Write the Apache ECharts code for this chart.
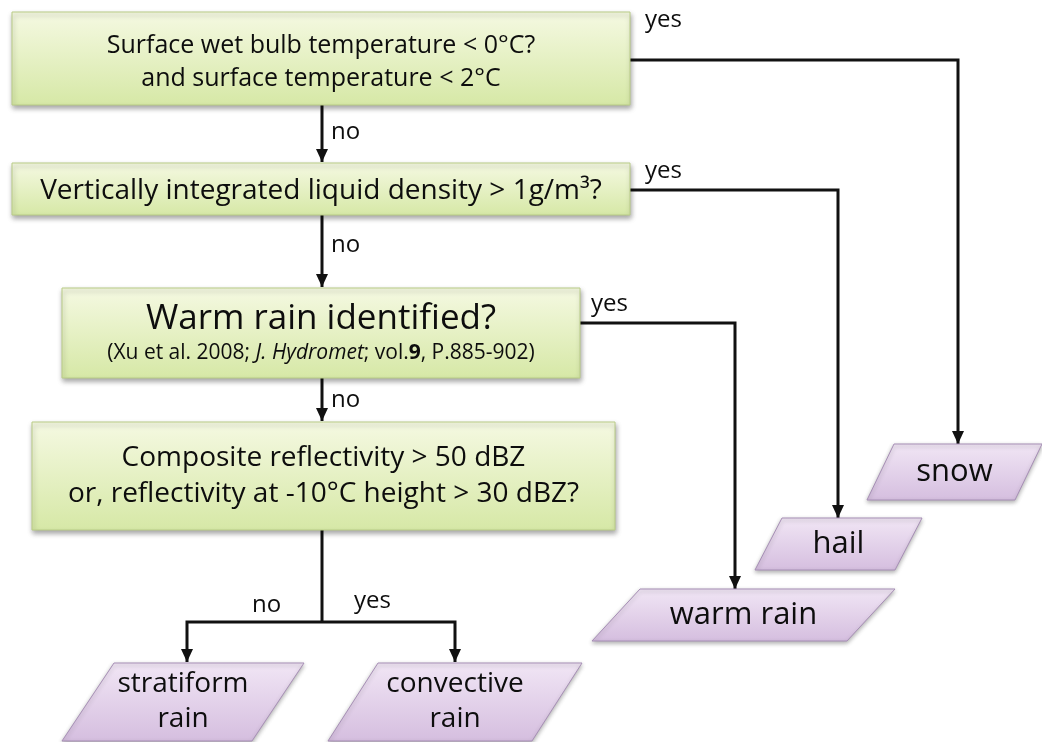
<!DOCTYPE html>
<html>
<head>
<meta charset="utf-8">
<script src="https://cdn.jsdelivr.net/npm/echarts@6/dist/echarts.min.js"></script>
<style>
html, body { margin: 0; padding: 0; background: #fff; }
#chart { width: 1042px; height: 742px; }
</style>
</head>
<body>
<div id="chart"></div>
<script>
// question boxes (green)
const decisionLabels = [
  'Surface wet bulb temperature < 0°C?\nand surface temperature < 2°C',
  'Vertically integrated liquid density > 1g/m³?',
  '{t|Warm rain identified?}\n{c|(Xu et al. 2008; }{ci|J. Hydromet}{c|; vol.}{cb|9}{c|, P.885-902)}',
  'Composite reflectivity > 50 dBZ\nor, reflectivity at -10°C height > 30 dBZ?'
]
// x0, y0, x1, y1
const decisionBoxes = [
  [12, 12, 630, 105],
  [12, 163, 630, 215],
  [62, 288, 580, 378],
  [32, 422, 615, 530]
]
// result shapes (purple)
const outcomeLabels = ['snow', 'hail', 'warm rain', 'stratiform\nrain', 'convective\nrain']
// top-left x, top y, top width, height, slant
const outcomeShapes = [
  [894, 444, 148, 56, 27],
  [782, 518, 140, 52, 27],
  [640, 589, 255, 52, 48],
  [114, 663, 190, 78, 52],
  [378, 663, 204, 78, 50]
]
// connector paths
const connectors = [
  [[630, 60], [958, 60], [958, 444]],
  [[630, 190], [838, 190], [838, 518]],
  [[580, 323], [735, 323], [735, 589]],
  [[322, 105], [322, 162]],
  [[322, 215], [322, 287]],
  [[322, 378], [322, 421]],
  [[322, 530], [322, 622]],
  [[322, 622], [187, 622], [187, 662]],
  [[322, 622], [455, 622], [455, 662]]
]
const connectorArrow = [1, 1, 1, 1, 1, 1, 0, 1, 1]
const edgeLabels = ['yes', 'yes', 'yes', 'no', 'no', 'no', 'no', 'yes']
const edgeLabelAt = [[645, 20], [645, 171], [591, 304], [331, 132], [331, 245], [331, 400], [252, 605], [354, 601]]

const FONT = '"Open Sans", Lato, sans-serif'
const decisionFont = [25, 28, 35, 28]
const decisionLine = [33, 30, 40, 36]
const decisionDy = [4, 2, 0, 0]

let mycharts = echarts.init(document.getElementById('chart'))

mycharts.setOption({
  backgroundColor: '#fff',
  animation: false,
  grid: { left: 0, right: 0, top: 0, bottom: 0 },
  xAxis: { type: 'value', min: 0, max: 1042, show: false },
  yAxis: { type: 'value', min: 0, max: 742, inverse: true, show: false },
  series: [
    // connectors
    {
      type: 'custom',
      coordinateSystem: 'cartesian2d',
      clip: false,
      data: connectors.map((c, i) => [c[0][0], c[0][1], i]),
      renderItem: function (params, api) {
        const i = params.dataIndex
        const pts = connectors[i].map(p => api.coord(p))
        const children = [{
          type: 'polyline',
          shape: { points: pts },
          style: { stroke: '#111', lineWidth: 3, fill: null }
        }]
        if (connectorArrow[i]) {
          const a = pts[pts.length - 2], b = pts[pts.length - 1]
          const dx = b[0] - a[0], dy = b[1] - a[1]
          const len = Math.sqrt(dx * dx + dy * dy)
          const ux = dx / len, uy = dy / len
          const bx = b[0] - ux * 13, by = b[1] - uy * 13
          children.push({
            type: 'polygon',
            shape: { points: [[b[0], b[1]], [bx - uy * 6, by + ux * 6], [bx + uy * 6, by - ux * 6]] },
            style: { fill: '#111' }
          })
        }
        return { type: 'group', children: children }
      }
    },
    // question boxes
    {
      type: 'custom',
      coordinateSystem: 'cartesian2d',
      clip: false,
      data: decisionBoxes.map((b, i) => [b[0], b[1], b[2], b[3], i]),
      renderItem: function (params, api) {
        const i = params.dataIndex
        const p0 = api.coord([api.value(0), api.value(1)])
        const p1 = api.coord([api.value(2), api.value(3)])
        return {
          type: 'group',
          children: [
            {
              type: 'rect',
              shape: { x: p0[0], y: p0[1], width: p1[0] - p0[0], height: p1[1] - p0[1] },
              style: {
                fill: new echarts.graphic.LinearGradient(0, 0, 0, 1, [
                  { offset: 0, color: '#f5f9e2' },
                  { offset: 1, color: '#d6e8a6' }
                ]),
                stroke: '#b9cc86',
                lineWidth: 1,
                shadowBlur: 5,
                shadowOffsetX: 1,
                shadowOffsetY: 3,
                shadowColor: 'rgba(0,0,0,0.35)'
              }
            },
            {
              type: 'text',
              style: {
                text: decisionLabels[i],
                x: (p0[0] + p1[0]) / 2,
                y: (p0[1] + p1[1]) / 2 + decisionDy[i],
                align: 'center',
                verticalAlign: 'middle',
                fontFamily: FONT,
                fontSize: decisionFont[i],
                lineHeight: decisionLine[i],
                fill: '#0d0d0d',
                rich: {
                  t: { fontFamily: FONT, fontSize: 35, lineHeight: 40, fill: '#0d0d0d' },
                  c: { fontFamily: FONT, fontSize: 21, lineHeight: 28, fill: '#0d0d0d' },
                  ci: { fontFamily: FONT, fontSize: 21, lineHeight: 28, fontStyle: 'italic', fill: '#0d0d0d' },
                  cb: { fontFamily: FONT, fontSize: 21, lineHeight: 28, fontWeight: 'bold', fill: '#0d0d0d' }
                }
              }
            }
          ]
        }
      }
    },
    // result shapes
    {
      type: 'custom',
      coordinateSystem: 'cartesian2d',
      clip: false,
      data: outcomeShapes.map((s, i) => [s[0], s[1], i]),
      renderItem: function (params, api) {
        const i = params.dataIndex
        const s = outcomeShapes[i]
        const tl = api.coord([s[0], s[1]])
        const sz = api.size([s[2], s[3]])
        const sk = api.size([s[4], 0])[0]
        const w = sz[0], h = sz[1]
        return {
          type: 'group',
          children: [
            {
              type: 'polygon',
              shape: { points: [[tl[0], tl[1]], [tl[0] + w, tl[1]], [tl[0] + w - sk, tl[1] + h], [tl[0] - sk, tl[1] + h]] },
              style: {
                fill: new echarts.graphic.LinearGradient(0, 0, 0, 1, [
                  { offset: 0, color: '#f1e6f5' },
                  { offset: 1, color: '#d5bedf' }
                ]),
                stroke: '#a78fb6',
                lineWidth: 1,
                shadowBlur: 4,
                shadowOffsetY: 2,
                shadowColor: 'rgba(0,0,0,0.3)'
              }
            },
            {
              type: 'text',
              style: {
                text: outcomeLabels[i],
                x: tl[0] + (w - sk) / 2,
                y: tl[1] + h / 2,
                align: 'center',
                verticalAlign: 'middle',
                fontFamily: FONT,
                fontSize: i < 3 ? 31 : 28,
                lineHeight: 35,
                fill: '#0d0d0d'
              }
            }
          ]
        }
      }
    },
    // yes / no labels
    {
      type: 'custom',
      coordinateSystem: 'cartesian2d',
      clip: false,
      data: edgeLabelAt.map((p, i) => [p[0], p[1], i]),
      renderItem: function (params, api) {
        const i = params.dataIndex
        const p = api.coord([api.value(0), api.value(1)])
        return {
          type: 'text',
          style: {
            text: edgeLabels[i],
            x: p[0],
            y: p[1],
            align: 'left',
            verticalAlign: 'middle',
            fontFamily: FONT,
            fontSize: 24,
            fill: '#0d0d0d'
          }
        }
      }
    }
  ]
})
</script>
</body>
</html>
